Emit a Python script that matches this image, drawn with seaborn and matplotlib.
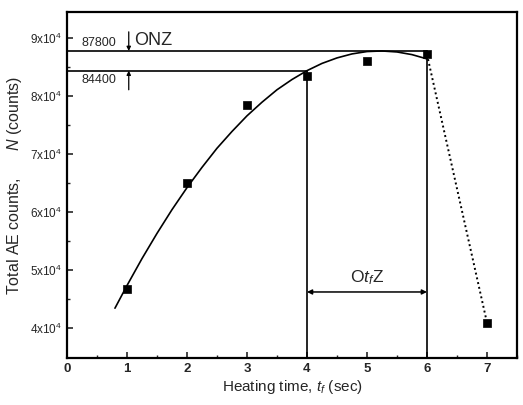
import matplotlib
matplotlib.use("Agg")
import matplotlib.pyplot as plt
import seaborn as sns
import pandas as pd

# measured data points
t_meas = [1, 2, 3, 4, 5, 6, 7]
n_meas = [46700, 65000, 78400, 83400, 86100, 87200, 40900]

# fitted curve
t_fit = [0.8, 1.0, 1.25, 1.5, 1.75, 2.0, 2.25, 2.5, 2.75, 3.0, 3.25, 3.5, 3.75,
         4.0, 4.25, 4.5, 4.75, 5.0, 5.25, 5.5, 5.75, 6.0]
n_fit = [43400, 47300, 51950, 56300, 60400, 64200, 67700, 71000, 73900, 76600, 78950,
         81100, 82870, 84400, 85650, 86600, 87290, 87700, 87800, 87630, 87170, 86430]

# dotted drop
t_drop = [6, 7]
n_drop = [87200, 40900]

n_top = 87800
n_low = 84400
t_low = 4
t_high = 6
arrow_n = 46200

yticks = [40000, 50000, 60000, 70000, 80000, 90000]
ylabels = ["4x10$^4$", "5x10$^4$", "6x10$^4$", "7x10$^4$", "8x10$^4$", "9x10$^4$"]
xticks = [0, 1, 2, 3, 4, 5, 6, 7]

sns.set_theme(style="ticks")
plt.rcParams['font.family'] = ['Liberation Sans', 'DejaVu Sans']
plt.rcParams['mathtext.fontset'] = 'custom'
plt.rcParams['mathtext.rm'] = 'Liberation Sans'
plt.rcParams['mathtext.it'] = 'Liberation Sans:italic'

fig = plt.figure(figsize=(5.23, 4.05), dpi=100)
ax = fig.add_axes([0.128, 0.116, 0.8605, 0.854])

df_fit = pd.DataFrame({"t": t_fit, "n": n_fit})
df_meas = pd.DataFrame({"t": t_meas, "n": n_meas})
df_drop = pd.DataFrame({"t": t_drop, "n": n_drop})

sns.lineplot(data=df_fit, x="t", y="n", ax=ax, color="black", lw=1.2, sort=False)
sns.lineplot(data=df_drop, x="t", y="n", ax=ax, color="black", lw=1.4, linestyle=(0, (1, 1.5)))
sns.scatterplot(data=df_meas, x="t", y="n", ax=ax, marker="s", color="black", s=38,
                edgecolor="black", zorder=5)

# reference lines
ax.plot([0, t_high], [n_top, n_top], color="black", lw=1.2)
ax.plot([0, t_low], [n_low, n_low], color="black", lw=1.2)
ax.plot([t_low, t_low], [34800, n_low], color="black", lw=1.2)
ax.plot([t_high, t_high], [34800, n_top], color="black", lw=1.2)

# double arrow between t=4 and t=6
ax.annotate("", xy=(t_low, arrow_n), xytext=(t_high, arrow_n),
            arrowprops=dict(arrowstyle="<|-|>", color="black", lw=1.1,
                            mutation_scale=7, shrinkA=0, shrinkB=0))
ax.text(5.0, arrow_n + 800, "O$t_f$Z", ha="center", va="bottom", fontsize=12.5)

# small arrows for N
ax.annotate("", xy=(1.03, n_top), xytext=(1.03, n_top + 3300),
            arrowprops=dict(arrowstyle="-|>", color="black", lw=0.9,
                            mutation_scale=6, shrinkA=0, shrinkB=0))
ax.annotate("", xy=(1.03, n_low), xytext=(1.03, n_low - 3300),
            arrowprops=dict(arrowstyle="-|>", color="black", lw=0.9,
                            mutation_scale=6, shrinkA=0, shrinkB=0))
ax.text(0.25, n_top + 400, "87800", ha="left", va="bottom", fontsize=9)
ax.text(0.25, n_low - 600, "84400", ha="left", va="top", fontsize=9)
ax.text(1.12, n_top + 400, "ONZ", ha="left", va="bottom", fontsize=13)

ax.set_xlim(0, 7.5)
ax.set_ylim(34800, 94500)
ax.set_xticks(xticks)
ax.set_xticklabels([str(x) for x in xticks], fontweight="bold", fontsize=9.5)
ax.set_xticks([x + 0.5 for x in xticks], minor=True)
ax.set_yticks(yticks)
ax.set_yticklabels(ylabels, fontsize=8.5)
ax.set_yticks([y + 5000 for y in yticks[:-1]], minor=True)
ax.tick_params(direction="in", which="major", length=4, width=1.2)
ax.tick_params(direction="in", which="minor", length=2.5, width=1.0)
for s in ax.spines.values():
    s.set_linewidth(1.6)
    s.set_color("black")

ax.set_xlabel("Heating time, $t_f$ (sec)", fontsize=11, labelpad=2)
ax.set_ylabel("Total AE counts,      $N$ (counts)", fontsize=11.5, labelpad=4)

fig.savefig("out.png", dpi=100)
